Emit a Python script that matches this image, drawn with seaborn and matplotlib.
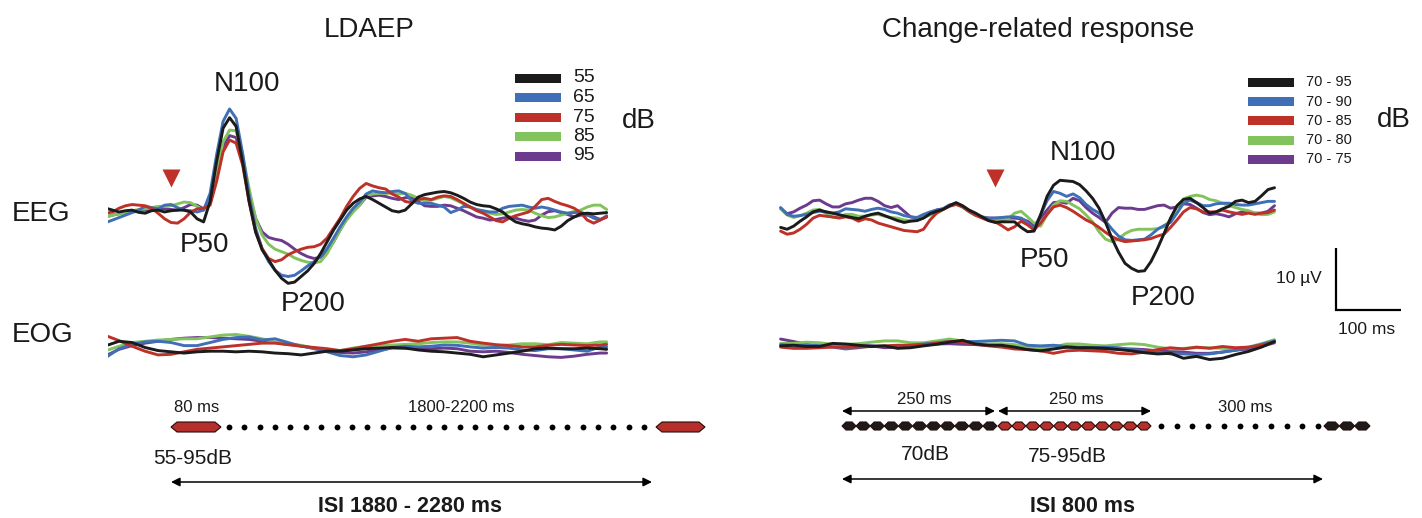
import numpy as np
import pandas as pd
import matplotlib
matplotlib.use("Agg")
import matplotlib.pyplot as plt
from matplotlib.patches import Polygon, Rectangle
import seaborn as sns

# ------------------------------------------------------------------ data
levels_ldaep = ["55", "65", "75", "85", "95"]
levels_change = ["70 - 95", "70 - 90", "70 - 85", "70 - 80", "70 - 75"]
trace_colors = ["#1b1b1b", "#3f6fb6", "#bd3129", "#83c35d", "#6c3b8e"]

# time axes (ms, relative to the trigger)
t_left = np.arange(-100, 671, 10)
t_right = np.arange(-330, 431, 10)
t_left_eog = np.append(np.arange(-100, 661, 20), 670)
t_right_eog = np.arange(-330, 431, 20)

# LDAEP, EEG (µV, negative = up)
ldaep_eeg_55 = [-0.6, -0.3, 0, -0.2, -0.3, 0.05, 0.2, -0.2, -0.3, 0, -0.2, -0.3, -0.3, 0, 1.1, 1.6,
                -1.7, -8.1, -13.5, -15.2, -13.8, -8.1, -1.7, 3.2, 6.1, 7.7, 9.4, 10.7, 11.5, 11.3,
                10.4, 9.5, 8.3, 6.7, 4.8, 2.9, 1.3, -0.3, -1.4, -2.1,
                -2.5, -2.0, -1.4, -0.8, -0.2, 0, -0.3, -1.3, -2.4, -2.8, -3.0, -3.2, -3.3, -3.1,
                -2.7, -2.2, -1.6, -1.2, -1.0, -0.9, -0.5, 0, 0.9, 1.6, 1.9, 2.1, 2.4, 2.6, 2.7,
                2.9, 2.3, 1.4, 0.8, 0.3, 0.2, 0.3, 0.2, 0.1]
ldaep_eeg_65 = [1.7, 1.3, 0.9, 0.5, 0.1, -0.3, -0.9, -0.7, -0.5, -1.1, -1.2, -0.7, -0.3, -0.2, 0, -0.3,
                -3.0, -9.2, -14.6, -16.6, -15.1, -9.5, -2.7, 2.6, 5.9, 8.0, 9.4, 10.2, 10.4, 10.2,
                9.5, 8.7, 8.0, 7.2, 5.9, 4.2, 2.4, 0.8, -0.6, -1.6,
                -2.9, -3.4, -3.2, -3.1, -3.3, -3.4, -3.0, -1.8, -1.4, -1.4, -1.4, -1.1, -0.8, 0.1,
                -0.3, -0.9, -0.8, -0.4, -0.2, 0, 0, -0.6, -0.9, -1.0, -1.1, -0.8, -0.6, -0.8, -0.6,
                -0.3, 0, 0.2, 0.1, 0.05, 0.4, 1.0, 1.3, 0.6]
ldaep_eeg_75 = [0.2, 0, -0.6, -1.0, -1.2, -1.1, -1.0, -0.6, 0.2, 1.1, 1.7, 1.8, 1.1, 0.05, -0.5, -0.6,
                -1.1, -4.9, -9.7, -11.6, -11.1, -7.6, -1.7, 3.2, 5.9, 7.5, 8.0, 7.7, 6.9, 6.4,
                6.0, 5.7, 5.6, 5.2, 4.2, 2.6, 1.0, -0.9, -2.5, -3.8,
                -4.6, -4.2, -3.9, -3.7, -2.9, -2.4, -1.7, -1.5, -2.0, -2.2, -2.0, -2.4, -2.6, -2.5,
                -2.0, -1.4, -0.8, -0.2, 0.2, 0.8, 1.4, 1.6, 1.0, 0.6, 0.3, 0, -0.9, -2.0, -2.2,
                -1.7, -1.3, -1.0, -0.6, 0.1, 1.3, 1.8, 1.3, 0.8]
ldaep_eeg_85 = [0.8, 0.5, 0.3, 0.05, -0.2, -0.4, -0.5, -0.7, -0.9, -0.9, -1.0, -1.3, -1.6, -1.5, -0.9, -0.3,
                -1.7, -6.5, -11.3, -13.2, -13.1, -9.2, -3.8, 1.0, 3.7, 5.2, 6.0, 6.4, 6.8, 7.4,
                7.8, 8.1, 8.2, 8.0, 6.7, 4.8, 2.9, 1.3, 0, -1.1,
                -2.6, -2.9, -3.0, -3.0, -3.0, -2.9, -3.0, -2.7, -2.2, -1.8, -1.9, -2.2, -2.5, -2.3,
                -1.8, -1.3, -0.8, -0.3, 0, 0.2, 0.4, 0.3, 0, -0.3, -0.4, -0.3, 0.2, 0.6, 0.9,
                0.8, 0.5, 0.2, -0.1, -0.3, -0.8, -1.1, -1.1, -0.4]
ldaep_eeg_95 = [0.8, 0.5, 0.3, 0.05, 0, -0.2, -0.3, -0.3, -0.4, -0.5, -0.4, -0.3, -0.7, -1.2, -1.1, -0.5,
                -1.4, -5.7, -10.5, -12.3, -12.0, -8.1, -3.0, 1.0, 3.2, 4.1, 4.4, 4.6, 5.2, 6.0,
                6.7, 7.2, 7.5, 7.3, 6.3, 4.8, 2.9, 1.1, -0.2, -1.1,
                -2.4, -2.6, -2.7, -2.5, -2.2, -2.0, -2.3, -2.3, -1.7, -1.0, -0.9, -0.9, -1.1, -1.0,
                -0.6, -0.2, 0.3, 0.8, 1.0, 1.3, 1.2, 1.0, 0.8, 1.0, 1.3, 1.5, 1.3, 0.5, -0.05,
                -0.2, 0.1, 0.4, 0.8, 0.5, 0.5, 0.8, 1.2, 0.8]

# LDAEP, EOG
ldaep_eog_55 = [0.1, -0.6, -0.4, 0.4, 0.9, 1.1, 1.3, 1.1, 1.0, 1.0, 1.1, 1.0, 1.1, 1.3, 1.4, 1.6, 1.3, 1.0,
                1.0, 0.8, 0.6, 0.5, 0.4, 0.5, 0.8, 1.0, 1.1, 1.3, 1.5, 1.9, 1.6, 1.3, 1.0, 0.6, 0.5,
                0.6, 0.6, 0.5, 0.6, 0.7]
ldaep_eog_65 = [2.0, 0.6, -0.1, -0.5, -0.6, -0.4, 0.1, 0.1, -0.4, -0.9, -1.2, -1.3, -0.8, -1.0, -0.4, 0.2,
                0.5, 1.1, 1.7, 1.9, 1.6, 1.0, 0.4, 0.2, 0.3, 0.2, 0, 0.05, 0.3, 0.5, 0.4, 0.5, 0.8,
                0.9, 0.6, 0.6, 0.8, 1.0, 0.3, 0.3]
ldaep_eog_75 = [-1.5, -0.7, 0.2, 1.0, 1.6, 1.5, 1.1, 0.7, 0.5, 0.3, 0.1, -0.1, -0.3, -0.3, -0.05, 0.2,
                0.4, 0.6, 0.9, 0.6, 0.2, -0.2, -0.6, -0.9, -0.6, -1.0, -1.1, -1.2, -0.6, -0.3, -0.05,
                0.1, 0.3, 0.3, 0.05, -0.1, 0, 0.1, 0, -0.1]
ldaep_eog_85 = [0.9, 0.2, -0.4, -0.6, -0.8, -0.9, -1.0, -1.0, -1.3, -1.6, -1.7, -1.4, -1.0, -0.5, -0.2,
                0.05, 0.5, 0.9, 0.9, 0.5, 0.2, 0.05, 0, -0.1, -0.2, -0.4, -0.5, -0.5, -0.3, 0.05,
                0.1, 0, -0.2, -0.2, -0.05, -0.4, -0.3, -0.2, -0.5, -0.5]
ldaep_eog_95 = [1.7, 0.7, 0.1, -0.3, -0.6, -0.9, -1.1, -1.2, -1.2, -1.1, -1.0, -0.9, -0.6, -0.4, -0.1,
                0.1, 0.6, 1.0, 1.2, 1.3, 1.1, 0.8, 0.5, 0.5, 0.6, 0.6, 0.5, 0.6, 1.0, 1.1, 1.0, 1.2,
                1.5, 1.7, 1.9, 2.0, 1.8, 1.5, 1.3, 1.3]

# Change-related response, EEG
change_eeg_95 = [2.0, 2.3, 1.8, 1.0, 0.3, -0.5, -0.8, -0.5, -0.3, -0.05, 0.2, 0.4, 0.6, 0.2, -0.1, -0.3,
                 0.1, 0.5, 0.9, 1.2, 1.0, 0.9, 0.5, -0.2, -0.6, -0.9, -1.5, -2.0, -1.5, -0.8, -0.3,
                 0.3, 0.9, 1.2, 1.1, 1.1, 1.1, 2.0, 2.7,
                 2.6, 0, -3.0, -4.8, -5.6, -5.5, -5.4, -4.9, -3.9, -2.7, -1.1, 1.2, 3.8, 6.0, 7.8,
                 8.6, 9.1, 9.0, 7.5, 5.4, 3.0, 0.5, -1.5, -2.5, -2.7, -2.0, -1.2, -0.3, -0.5, -1.0,
                 -1.4, -2.2, -2.4, -2.0, -2.2, -3.1, -4.1, -4.4]
change_eeg_90 = [-1.2, -0.1, 0.2, 0.1, -0.1, -0.4, -0.6, -0.5, -0.3, -0.5, -1.0, -0.9, -0.8, -0.6, -0.9,
                 -1.1, -0.9, -0.5, -0.3, 0.1, 0.3, 0.4, -0.1, -0.5, -0.8, -1.0, -1.6, -1.9, -1.4, -0.6,
                 0, 0.4, 0.5, 0.5, 0.4, 0.3, 0.3, 0.5, 1.2,
                 2.2, 0, -2.3, -3.8, -3.5, -3.0, -3.4, -2.8, -1.7, -0.9, -0.3, 1.0, 2.3, 3.4, 4.0,
                 4.1, 4.0, 3.9, 3.2, 2.3, 1.7, 1.2, -0.3, -1.9, -2.4, -2.0, -1.5, -1.5, -1.8, -1.9,
                 -1.9, -1.7, -1.6, -1.6, -1.8, -2.0, -2.2, -2.2]
change_eeg_85 = [2.6, 3.1, 2.9, 2.3, 1.5, 0.5, 0.05, 0.2, 0.3, 0.5, 0.3, 0.5, 1.0, 0.6, 0.8, 1.3, 1.6,
                 1.9, 2.2, 2.5, 2.6, 2.7, 2.3, 0.8, -0.3, -0.9, -1.4, -1.7, -1.3, -0.6, 0, 0.5, 0.9,
                 1.1, 1.7, 2.4, 1.9, 1.0, 1.6,
                 2.4, 1.3, -0.1, -1.3, -1.6, -1.2, -0.6, 0.1, 0.8, 1.3, 2.0, 2.8, 3.5, 4.0, 4.3,
                 4.2, 4.1, 4.0, 3.8, 3.4, 3.1, 2.0, 0.8, -0.5, -1.2, -1.0, -0.5, -0.5, -0.5, -0.8,
                 -0.5, -0.3, -0.1, -0.3, -0.1, -0.3, -0.4, -0.8]
change_eeg_80 = [-1.0, 0, 0.4, 0.1, -0.3, -0.8, -0.9, -0.2, 0.4, 0.3, -0.1, -0.1, 0.2, 0.2, 0, -0.1, 0.2,
                 0.4, 0.5, 0.8, 0.9, 0.8, 0.4, 0, -0.3, -0.9, -1.5, -1.8, -1.3, -0.5, 0.1, 0.4, 0.6,
                 0.8, 0.8, 0.6, -0.3, -0.6, 0.3,
                 1.3, 1.8, 0, -1.6, -2.3, -2.2, -1.6, -1.0, 0, 1.1, 2.7, 3.9, 4.3, 3.9, 3.0, 2.5,
                 2.3, 2.3, 2.3, 2.2, 1.9, 0.8, -1.3, -2.6, -3.0, -3.2, -3.0, -2.5, -2.3, -1.9, -1.5,
                 -1.2, -0.9, -0.7, -0.3, -0.05, -0.1, -0.5]
change_eeg_75 = [-1.1, -0.2, -0.5, -1.1, -1.6, -2.3, -2.4, -1.8, -1.3, -1.3, -1.8, -2.0, -2.4, -2.7, -2.7,
                 -2.2, -1.5, -1.2, -1.5, -0.6, 0.3, 0.5, 0.3, -0.4, -0.8, -1.0, -1.6, -1.8, -1.4, -0.6,
                 0, 0.3, 0.5, 0.5, 0.5, 0.5, 0.5, 0.6, 1.0,
                 1.7, 0.5, -0.8, -2.0, -2.1, -1.9, -2.7, -2.3, -1.2, -0.3, 0.4, 1.2, -0.3, -1.2, -1.1,
                 -1.1, -0.9, -0.9, -1.2, -1.5, -1.6, -1.1, -1.3, -1.8, -1.7, -1.1, -0.4, -0.05, -0.2,
                 0, 0.3, -0.2, -0.5, -0.5, -0.3, -0.3, -0.6, -1.5]

# Change-related response, EOG
change_eog_95 = [0.3, 0.2, 0.4, 0.4, -0.1, 0, 0.2, 0.4, 0.3, 0.7, 0.6, 0.3, 0.05, -0.3, -0.6, 0, 0.2, 0.2,
                 0.5, 0.9, 1.1, 0.8, 0.5, 0.6, 0.6, 0.7, 0.9, 1.1, 1.4, 1.6, 1.5, 2.3, 2.0, 2.5, 2.3,
                 1.7, 1.2, 0.5, -0.4]
change_eog_90 = [0.1, 0.2, 0.2, 0.3, 0.5, 0.8, 0.6, 0.3, 0.4, 0.3, 0.2, 0, -0.2, -0.4, -0.4, -0.4, -0.5,
                 -0.6, -0.5, 0.2, 0.3, 0.2, 0.4, 0.5, 0.6, 0.5, 0.6, 0.9, 1.1, 1.3, 1.6, 1.6, 1.7, 1.6,
                 1.3, 1.0, 0.6, 0.05, -0.5]
change_eog_85 = [0.5, 0.7, 0.7, 0.6, 0.5, 0.5, 0.5, 0.4, 0.3, 0.2, 0.2, 0.1, -0.1, -0.4, -0.3, 0.05, 0.3,
                 0.5, 0.8, 0.9, 1.1, 1.5, 1.1, 1.0, 1.1, 1.2, 1.5, 1.6, 1.3, 0.9, 0.6, 0.8, 0.5, 0.7,
                 0.4, 0.6, 0.5, 0.2, -0.3]
change_eog_80 = [-0.1, -0.1, -0.3, -0.2, 0.05, 0.05, -0.05, -0.3, -0.5, -0.5, -0.2, -0.2, -0.5, -0.8, -0.5,
                 -0.1, 0, -0.05, 0.1, 0.5, 0.7, 0.5, 0, 0, 0.2, 0.3, 0.1, -0.05, 0.1, 0.5, 0.8, 0.7,
                 0.6, 0.6, 0.7, 0.8, 0.5, -0.05, -0.7]
change_eog_75 = [-0.8, -0.4, 0.05, 0.3, 0.2, 0.2, 0.2, 0.3, 0.6, 0.5, 0.4, 0.2, 0, -0.05, 0.05, 0.1, 0.2,
                 0.2, 0.5, 0.9, 0.7, 0.5, 0.5, 0.6, 0.7, 0.8, 0.8, 0.8, 0.9, 1.1, 1.2, 1.3, 1.5, 1.5,
                 1.3, 1.0, 0.8, 0.4, -0.2]

# stimulus schematic
n_dots_ldaep = 28
n_seg_standard = 11
n_seg_deviant = 11
n_dots_change = 11
n_seg_next = 3

# ------------------------------------------------------------------ style
sns.set_style("white")
plt.rcParams["font.family"] = ["Liberation Sans", "DejaVu Sans"]
TXT = "#1a1a1a"
RED = "#bd3129"

W, H = 1422, 518
fig = plt.figure(figsize=(W / 100, H / 100), dpi=100)


def px_axes(x0, y0, x1, y1):
    return fig.add_axes([x0 / W, 1 - y1 / H, (x1 - x0) / W, (y1 - y0) / H])


def draw_traces(ax, t, series, labels, draw_order):
    frames = [pd.DataFrame({"t": t, "amp": s, "level": lab}) for s, lab in zip(series, labels)]
    df = pd.concat(frames, ignore_index=True)
    pal = dict(zip(labels, trace_colors))
    sns.lineplot(data=df, x="t", y="amp", hue="level", hue_order=draw_order, palette=pal,
                 estimator=None, sort=False, legend=False, ax=ax, linewidth=2.1,
                 solid_joinstyle="round", solid_capstyle="round")
    ax.set_axis_off()


order_idx = [4, 3, 1, 2, 0]  # purple, green, blue, red, black on top

# LDAEP EEG
ax_le = px_axes(108, 60, 608, 300)
ld_eeg = [ldaep_eeg_55, ldaep_eeg_65, ldaep_eeg_75, ldaep_eeg_85, ldaep_eeg_95]
draw_traces(ax_le, t_left, ld_eeg, levels_ldaep, [levels_ldaep[i] for i in order_idx])
ax_le.set_xlim(-97, 672)
ax_le.set_ylim(14.19, -24.5)
ax_le.plot([0], [-5.5], marker="v", ms=13, color=RED, mec="none", ls="none")

# LDAEP EOG
ax_lo = px_axes(108, 320, 608, 370)
ld_eog = [ldaep_eog_55, ldaep_eog_65, ldaep_eog_75, ldaep_eog_85, ldaep_eog_95]
draw_traces(ax_lo, t_left_eog, ld_eog, levels_ldaep, [levels_ldaep[i] for i in order_idx])
ax_lo.set_xlim(-97, 672)
ax_lo.set_ylim(4.03, -4.03)

# Change EEG
ax_re = px_axes(778, 140, 1410, 320)
ch_eeg = [change_eeg_95, change_eeg_90, change_eeg_85, change_eeg_80, change_eeg_75]
draw_traces(ax_re, t_right, ch_eeg, levels_change, [levels_change[i] for i in order_idx])
ax_re.set_xlim(-334, 638.5)
ax_re.set_ylim(16.94, -12.1)
ax_re.plot([0], [-6.0], marker="v", ms=13, color=RED, mec="none", ls="none")
# scale bar: 100 ms x 10 µV
ax_re.plot([525, 525, 625], [5.3, 15.3, 15.3], color="black", lw=1.6,
           solid_joinstyle="miter", solid_capstyle="butt", clip_on=False)

# Change EOG
ax_ro = px_axes(778, 320, 1280, 370)
ch_eog = [change_eog_95, change_eog_90, change_eog_85, change_eog_80, change_eog_75]
draw_traces(ax_ro, t_right_eog, ch_eog, levels_change, [levels_change[i] for i in order_idx])
ax_ro.set_xlim(-334, 438.5)
ax_ro.set_ylim(4.19, -3.87)

# ------------------------------------------------------------------ overlay (pixel coords)
ov = fig.add_axes([0, 0, 1, 1])
ov.set_xlim(0, W)
ov.set_ylim(H, 0)
ov.set_axis_off()
ov.patch.set_alpha(0)


def txt(x, y, s, size, ha="center", weight="normal"):
    ov.text(x, y, s, fontsize=size, ha=ha, va="center", color=TXT, fontweight=weight)


txt(369, 30, "LDAEP", 20)
txt(1038, 30, "Change-related response", 20)
txt(12, 214, "EEG", 20, ha="left")
txt(12, 335, "EOG", 20, ha="left")
txt(247, 84, "N100", 20)
txt(205, 245, "P50", 20)
txt(313, 304, "P200", 20)
txt(1083, 153, "N100", 20)
txt(1044, 260, "P50", 20)
txt(1163, 298, "P200", 20)
txt(1322, 279, "10 µV", 12.5, ha="right")
txt(1367, 330, "100 ms", 12.5)

# legends
for i, (lab, col) in enumerate(zip(levels_ldaep, trace_colors)):
    y = 78 + 19.5 * i
    ov.add_patch(Rectangle((515, y - 4.5), 46, 9, color=col, lw=0))
    txt(573, y, lab, 14, ha="left")
txt(622, 121, "dB", 20, ha="left")
for i, (lab, col) in enumerate(zip(levels_change, trace_colors)):
    y = 82.5 + 19.2 * i
    ov.add_patch(Rectangle((1248, y - 4.5), 46, 9, color=col, lw=0))
    txt(1306, y, lab, 10.5, ha="left")
txt(1377, 120, "dB", 20, ha="left")


def hexbar(x0, x1, y, color, half=4.5, tip=5):
    pts = [(x0, y), (x0 + tip, y - half), (x1 - tip, y - half), (x1, y),
           (x1 - tip, y + half), (x0 + tip, y + half)]
    ov.add_patch(Polygon(pts, closed=True, facecolor=color, edgecolor="#2a0c0c", lw=0.8))


def arrow(x0, x1, y):
    ov.annotate("", xy=(x1, y), xytext=(x0, y),
                arrowprops=dict(arrowstyle="<|-|>", color="black", lw=1.1,
                                mutation_scale=13, shrinkA=0, shrinkB=0))


# LDAEP schematic
hexbar(171, 221, 427, "#b5302a", half=5, tip=6)
ov.plot(np.linspace(229, 644, n_dots_ldaep), np.full(n_dots_ldaep, 427), "o",
        color="black", ms=4.2, mec="none")
hexbar(656, 705, 427, "#b5302a", half=5, tip=6)
txt(197, 408, "80 ms", 12)
txt(461, 408, "1800-2200 ms", 12)
txt(193, 458, "55-95dB", 15)
arrow(171, 652, 482)
txt(410, 507, "ISI 1880 - 2280 ms", 15.5, weight="bold")

# Change schematic
edges = np.linspace(842, 997, n_seg_standard + 1)
for a, b in zip(edges[:-1], edges[1:]):
    hexbar(a, b, 426, "#1b1b1b", half=4, tip=4)
edges = np.linspace(998, 1151, n_seg_deviant + 1)
for a, b in zip(edges[:-1], edges[1:]):
    hexbar(a, b, 426, "#b5302a", half=4, tip=4)
ov.plot(np.linspace(1161, 1318, n_dots_change), np.full(n_dots_change, 426), "o",
        color="black", ms=4.2, mec="none")
edges = np.linspace(1324, 1370, n_seg_next + 1)
for a, b in zip(edges[:-1], edges[1:]):
    hexbar(a, b, 426, "#1b1b1b", half=4, tip=4)
arrow(842, 995, 411)
arrow(998, 1151, 411)
txt(924, 400, "250 ms", 12)
txt(1076, 400, "250 ms", 12)
txt(1245, 408, "300 ms", 12)
txt(925, 454, "70dB", 15)
txt(1067, 457, "75-95dB", 15)
arrow(842, 1323, 479)
txt(1082, 507, "ISI 800 ms", 15.5, weight="bold")

fig.savefig("out.png", dpi=100, facecolor="white")
